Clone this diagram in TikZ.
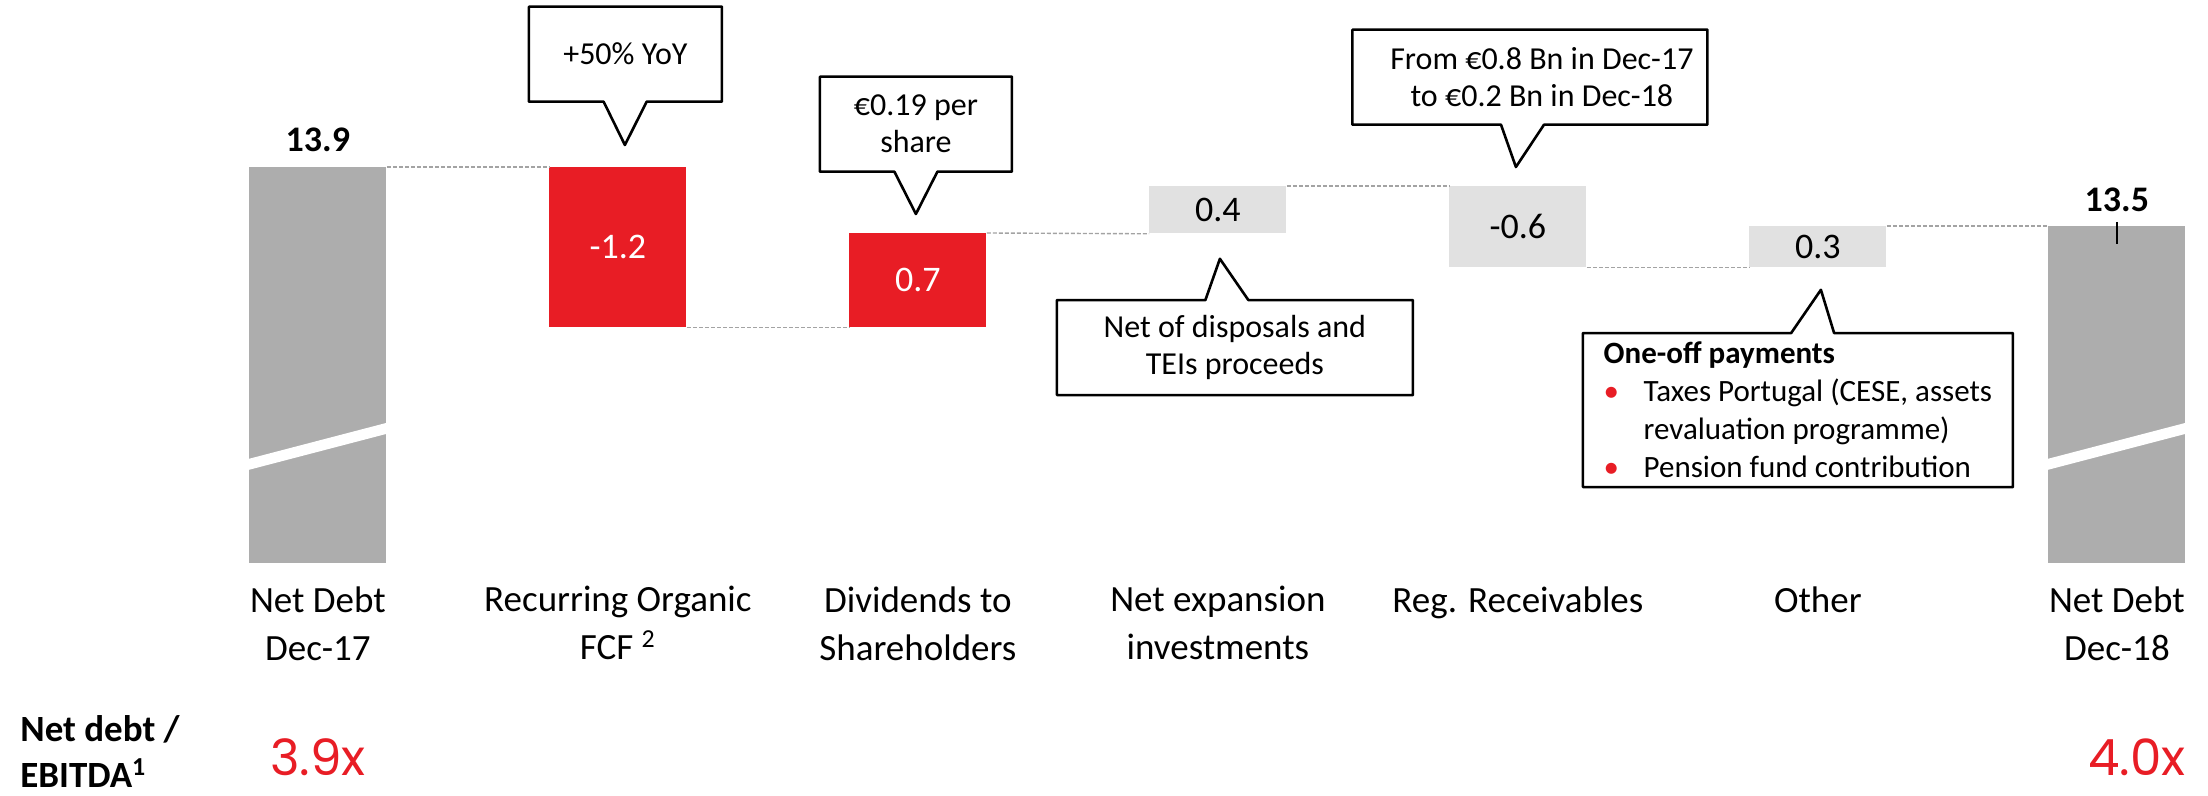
\documentclass[tikz,border=0pt]{standalone}
\usepackage{fontspec}
\setmainfont{Carlito}
\newfontfamily\ratiofont{Poppins}
\usepackage{xcolor}
\usetikzlibrary{positioning, shapes.callouts}

\definecolor{edpred}{HTML}{E81D25}
\definecolor{bargray}{HTML}{ADADAD}
\definecolor{stepgray}{HTML}{E1E1E1}
\definecolor{linkgray}{HTML}{A3A3A3}

\newcommand{\redbul}{\makebox[20pt][l]{\textcolor{edpred}{\textbullet}}}

\begin{document}
\begin{tikzpicture}[
        x=0.5pt, y=-0.5pt,
        bar/.style={draw=none, inner sep=0pt, anchor=north west, minimum width=68.5pt, font=\fontsize{18}{22}\selectfont},
        fixedbar/.style={bar, fill=bargray},
        redbar/.style={bar, fill=edpred, text=white},
        greybar/.style={bar, fill=stepgray},
        total/.style={inner sep=0pt, font=\bfseries\fontsize{18}{22}\selectfont},
        cat/.style={align=center, inner sep=0pt, anchor=north, font=\fontsize{18.5}{24}\selectfont},
        link/.style={draw=linkgray, dash pattern=on 2pt off 1pt, line width=0.7pt},
        note/.style={rectangle callout, draw, fill=white, line width=1.3pt, line join=round, align=center, inner sep=0pt, callout pointer width=21.5pt, font=\fontsize{16}{18.5}\selectfont},
        ratio/.style={inner sep=0pt, text=edpred, font=\ratiofont\fontsize{25}{30}\selectfont}
        ]
        \useasboundingbox (0,0) rectangle (2208,796);
        \coordinate (catline) at (0,586);
        \coordinate (ratioline) at (0,757);

        % bars
        \node[fixedbar, minimum height=198pt] (b1) at (249,167) {};
        \node[redbar, minimum height=80pt] (b2) at (549,167) {-1.2};
        \node[redbar, minimum height=47pt] (b3) at (849,233) {0.7};
        \node[greybar, minimum height=23.5pt] (b4) at (1149,186) {0.4};
        \node[greybar, minimum height=40.5pt] (b5) at (1449,186) {-0.6};
        \node[greybar, minimum height=20.5pt] (b6) at (1749,226) {0.3};
        \node[fixedbar, minimum height=168.5pt] (b7) at (2048,226) {};

        % axis breaks
        \fill[white] ([yshift=47pt]b1.south west) -- ([yshift=52.5pt]b1.south west) -- ([yshift=70.5pt]b1.south east) -- ([yshift=65pt]b1.south east) -- cycle;
        \fill[white] ([yshift=47pt]b7.south west) -- ([yshift=52.5pt]b7.south west) -- ([yshift=70.5pt]b7.south east) -- ([yshift=65pt]b7.south east) -- cycle;

        \node[total, above=7.5pt of b1] (v1) {13.9};
        \node[total, above=7pt of b7] (v7) {13.5};
        \draw[line width=0.7pt] ([yshift=2pt]b7.north) -- ([yshift=-9pt]b7.north);

        % steps
        \draw[link] (b1.north east) -- (b2.north west);
        \draw[link] (b2.south east) -- (b3.south west);
        \draw[link] (b3.north east) -- (b4.south west);
        \draw[link] (b4.north east) -- (b5.north west);
        \draw[link] (b5.south east) -- (b6.south west);
        \draw[link] (b6.north east) -- (b7.north west);

        % callouts
        \node[note, minimum width=96.5pt, minimum height=47.5pt, above=32pt of b2, xshift=3.75pt,
              callout absolute pointer={([xshift=3.5pt,yshift=11pt]b2.north)}] (c1) {+50\% YoY};
        \node[note, minimum width=96pt, minimum height=47.5pt, above=30pt of b3, xshift=-1pt,
              callout absolute pointer={([xshift=-1pt,yshift=9.5pt]b3.north)}] (c2) {€0.19 per\\share};
        \node[note, minimum width=178pt, minimum height=47.5pt, below=32.5pt of b4, xshift=8.5pt,
              callout absolute pointer={([xshift=1pt,yshift=-12.5pt]b4.south)}] (c3) {Net of disposals and\\TEIs proceeds};
        \node[note, minimum width=177.5pt, minimum height=47.5pt, above=30pt of b5, xshift=6pt,
              callout absolute pointer={([xshift=-1pt,yshift=9.5pt]b5.north)}] (c4) {\hspace*{12pt}From €0.8 Bn in Dec-17\\\hspace*{12pt}to €0.2 Bn in Dec-18};
        \node[note, minimum width=215pt, minimum height=77pt, below=32pt of b6, xshift=-10pt, align=left,
              font=\fontsize{15.5}{19}\selectfont,
              callout absolute pointer={([xshift=1.5pt,yshift=-11pt]b6.south)}] (c5)
              {\textbf{One-off payments}\\
               \redbul Taxes Portugal (CESE, assets\\
               \hspace*{20pt}revaluation programme)\\
               \redbul Pension fund contribution};

        % categories
        \node[cat] (l1) at (b1 |- catline) {Net Debt\\Dec-17};
        \node[cat] (l2) at (b2 |- catline) {Recurring Organic\\FCF \textsuperscript{2}};
        \node[cat] (l3) at (b3 |- catline) {Dividends to\\Shareholders};
        \node[cat] (l4) at (b4 |- catline) {Net expansion\\investments};
        \node[cat] (l5) at (b5 |- catline) {Reg. Receivables};
        \node[cat] (l6) at (b6 |- catline) {Other};
        \node[cat] (l7) at (b7 |- catline) {Net Debt\\Dec-18};

        % leverage
        \node[anchor=west, align=left, inner sep=0pt, font=\bfseries\fontsize{18.5}{23}\selectfont] (lev) at (20,752) {Net debt /\\EBITDA\textsuperscript{1}};
        \node[ratio] (r17) at (b1 |- ratioline) {3.9x};
        \node[ratio, anchor=east] (r18) at (b7.east |- ratioline) {4.0x};
\end{tikzpicture}
\end{document}
